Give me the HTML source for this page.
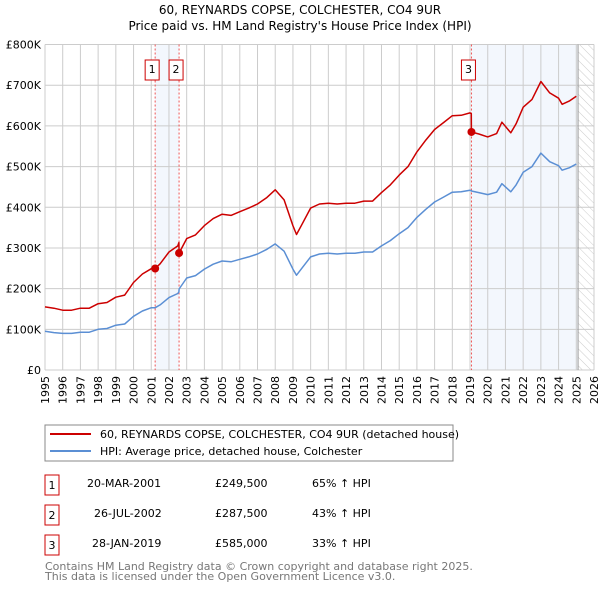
<!DOCTYPE html>
<html><head><meta charset="utf-8"><style>
body{margin:0;background:#fff}
svg{display:block;font-family:"DejaVu Sans","Liberation Sans",sans-serif}
</style></head><body>
<svg id="c" width="600" height="590" viewBox="0 0 600 590">
<defs><pattern id="hatch" width="6" height="6" patternUnits="userSpaceOnUse" patternTransform="rotate(-45)"><line x1="0" y1="0" x2="0" y2="6" stroke="#ccc" stroke-width="1"/></pattern></defs>
<text x="300" y="14" font-size="12" text-anchor="middle">60, REYNARDS COPSE, COLCHESTER, CO4 9UR</text>
<text x="300" y="30" font-size="12" text-anchor="middle">Price paid vs. HM Land Registry's House Price Index (HPI)</text>
<g id="plot"></g>
<rect x="45" y="425" width="408" height="36" fill="#fff" stroke="#888"/>
<line x1="50" y1="434" x2="91" y2="434" stroke="#cc0000" stroke-width="2"/>
<text x="100" y="438" font-size="11">60, REYNARDS COPSE, COLCHESTER, CO4 9UR (detached house)</text>
<line x1="50" y1="451" x2="91" y2="451" stroke="#5b8fd4" stroke-width="2"/>
<text x="100" y="455" font-size="11">HPI: Average price, detached house, Colchester</text>
<g font-size="11">
<rect x="45" y="475" width="14" height="20" fill="#fff" stroke="#cc0000"/><text x="52" y="489" text-anchor="middle">1</text>
<text x="87" y="487">20-MAR-2001</text><text x="215" y="487">£249,500</text><text x="312" y="487">65% ↑ HPI</text>
<rect x="45" y="505" width="14" height="20" fill="#fff" stroke="#cc0000"/><text x="52" y="519" text-anchor="middle">2</text>
<text x="94" y="517">26-JUL-2002</text><text x="215" y="517">£287,500</text><text x="312" y="517">43% ↑ HPI</text>
<rect x="45" y="535" width="14" height="20" fill="#fff" stroke="#cc0000"/><text x="52" y="549" text-anchor="middle">3</text>
<text x="92" y="547">28-JAN-2019</text><text x="215" y="547">£585,000</text><text x="312" y="547">33% ↑ HPI</text>
</g>
<text x="45" y="570" font-size="11" fill="#777">Contains HM Land Registry data © Crown copyright and database right 2025.</text>
<text x="45" y="580" font-size="11" fill="#777">This data is licensed under the Open Government Licence v3.0.</text>
</svg>
<script>
const dates=[1995,1995.5,1996,1996.5,1997,1997.5,1998,1998.5,1999,1999.5,2000,2000.5,2001,2001.22,2001.5,2002,2002.5,2002.56,2002.57,2003,2003.5,2004,2004.5,2005,2005.5,2006,2006.5,2007,2007.5,2008,2008.5,2009,2009.2,2009.5,2010,2010.5,2011,2011.5,2012,2012.5,2013,2013.5,2014,2014.5,2015,2015.5,2016,2016.5,2017,2017.5,2018,2018.5,2019,2019.07,2019.08,2019.5,2020,2020.5,2020.8,2021.3,2021.6,2022,2022.5,2023,2023.5,2024,2024.2,2024.6,2025];
const hpiValues=[95,92,90,90,93,93,100,102,110,113,132,145,153,153,160,178,188,192,199,226,232,248,260,268,266,272,278,285,296,310,292,248,233,250,278,285,287,285,287,287,290,290,305,318,335,350,375,395,413,425,437,438,442,441,440,436,431,437,458,438,455,486,500,533,512,502,491,497,506];
const priceValues=[155,152,147,147,152,152,163,166,179,184,215,236,249,249.5,261,290,305,313,287.5,323,332,355,372,383,380,389,398,408,423,443,418,355,333,357,398,408,410,408,410,410,415,415,436,455,479,500,536,565,591,608,625,626,632,630,585,580,573,581,609,583,605,646,665,709,681,668,653,661,673];
const saleDates=[2001.22,2002.57,2019.08];
const salePrices=[249.5,287.5,585];
const saleLabels=["1","2","3"];
const yTicks=[0,100,200,300,400,500,600,700,800];
const yTickLabels=["£0","£100K","£200K","£300K","£400K","£500K","£600K","£700K","£800K"];
const xTicks=[];for(let y=1995;y<=2026;y++)xTicks.push(y);
const X0=45,X1=594,Y0=370,Y1=44.5;
const xs=d=>X0+(d-1995)/(2026-1995)*(X1-X0);
const ys=v=>Y0-v/800*(Y0-Y1);
const NS="http://www.w3.org/2000/svg";
const g=document.getElementById('plot');
function mk(t,a,p){const e=document.createElementNS(NS,t);for(const k in a)e.setAttribute(k,a[k]);(p||g).appendChild(e);return e;}
let r=mk('rect',{x:xs(saleDates[0]),y:Y1,width:xs(saleDates[1])-xs(saleDates[0]),height:Y0-Y1,fill:'#eef3fc',opacity:0.7});


r=mk('rect',{x:xs(saleDates[2]),y:Y1,width:xs(2025.1)-xs(saleDates[2]),height:Y0-Y1,fill:'#eef3fc',opacity:0.7});


r=mk('rect',{x:xs(2025.1),y:Y1,width:X1-xs(2025.1),height:Y0-Y1,fill:'url(#hatch)'});


xTicks.forEach(t=>{const l=mk('line',{x1:xs(t),x2:xs(t),y1:Y1,y2:Y0,stroke:'#ccc','stroke-width':1});


const tx=mk('text',{x:0,y:0,'font-size':11,'text-anchor':'end',transform:`translate(${xs(t)+4},${Y0+6}) rotate(-90)`});tx.textContent=t;

});
yTicks.forEach((t,i)=>{const l=mk('line',{x1:X0,x2:X1,y1:ys(t),y2:ys(t),stroke:'#ccc','stroke-width':1});


const tx=mk('text',{x:X0-4,y:ys(t)+4,'font-size':11,'text-anchor':'end'});tx.textContent=yTickLabels[i];

});
r=mk('line',{x1:xs(2025.1),x2:xs(2025.1),y1:Y1,y2:Y0,stroke:'#999','stroke-width':1});


saleDates.forEach((d,i)=>{const l=mk('line',{x1:xs(d),x2:xs(d),y1:Y1,y2:Y0,stroke:'#e55','stroke-width':1,'stroke-dasharray':'2,2'});


const bx=xs(d)-3;
const b=mk('rect',{x:bx-7,y:60,width:14,height:20,fill:'#fff',stroke:'#cc0000'});


const t=mk('text',{x:bx,y:73,'font-size':11,'text-anchor':'middle'});t.textContent=saleLabels[i];

});
function path(vals,col,name){const d=vals.map((v,i)=>(i?'L':'M')+xs(dates[i]).toFixed(1)+','+ys(v).toFixed(1)).join('');
const p=mk('path',{d:d,fill:'none',stroke:col,'stroke-width':1.5,'stroke-linejoin':'round'});

}
path(hpiValues,'#5b8fd4','hpi-line');
path(priceValues,'#cc0000','price-line');
saleDates.forEach((d,i)=>{const c=mk('circle',{cx:xs(d),cy:ys(salePrices[i]),r:4,fill:'#cc0000'});

});
</script>
</body></html>
